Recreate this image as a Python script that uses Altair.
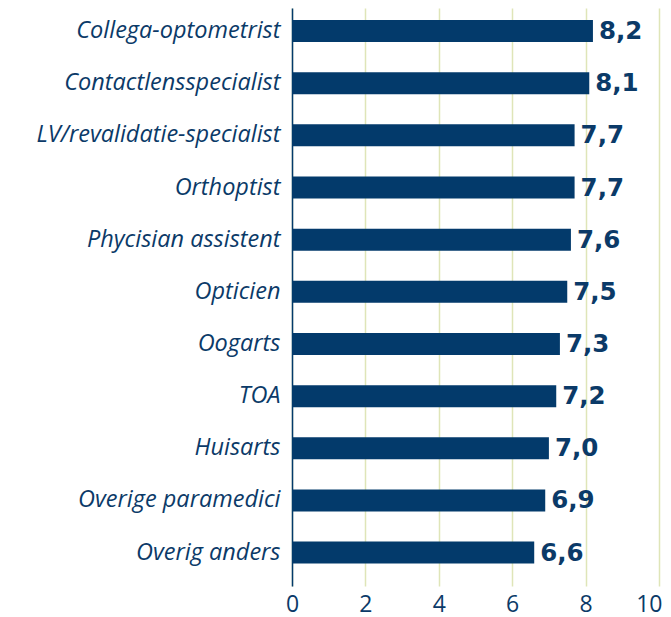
import altair as alt
import pandas as pd

categories = [
    "Collega-optometrist", "Contactlensspecialist", "LV/revalidatie-specialist",
    "Orthoptist", "Phycisian assistent", "Opticien", "Oogarts", "TOA",
    "Huisarts", "Overige paramedici", "Overig anders",
]
values = [8.2, 8.1, 7.7, 7.7, 7.6, 7.5, 7.3, 7.2, 7.0, 6.9, 6.6]
value_labels = ["8,2", "8,1", "7,7", "7,7", "7,6", "7,5", "7,3", "7,2", "7,0", "6,9", "6,6"]
x_ticks = [0, 2, 4, 6, 8, 10]

df = pd.DataFrame({"cat": categories, "val": values, "lab": value_labels})

NAVY = "#033a6b"
TEXT = "#0b3a68"

y_enc = alt.Y(
    "cat:N", sort=categories, title=None,
    scale=alt.Scale(paddingInner=0.578, paddingOuter=0.33, align=0.35),
    axis=alt.Axis(labelFont="Open Sans", labelFontStyle="italic", labelFontSize=23.5,
                  labelColor=TEXT, labelPadding=12, ticks=False, domain=True,
                  domainColor=NAVY, domainWidth=1.5, grid=False, labelLimit=300),
)
x_enc = alt.X(
    "val:Q", title=None,
    scale=alt.Scale(domain=[0, 10], nice=False),
    axis=alt.Axis(values=x_ticks, labelFont="Open Sans", labelFontSize=23,
                  labelColor=TEXT, ticks=False, domain=False, grid=True,
                  gridColor="#dfe5b8", gridWidth=1.5, labelPadding=7,
                  labelFlush=False,
                  labelAlign={"condition": {"test": "datum.value == 10", "value": "right"},
                              "value": "center"},
                  labelOffset={"condition": {"test": "datum.value == 10", "value": 3},
                               "value": 0}),
)

bars = alt.Chart(df).mark_bar(color=NAVY).encode(x=x_enc, y=y_enc)
texts = alt.Chart(df).mark_text(
    align="left", baseline="middle", dx=6, dy=1, font="DejaVu Sans",
    fontWeight="bold", fontSize=24.5, color=TEXT,
).encode(x="val:Q", y=alt.Y("cat:N", sort=categories), text="lab:N")

chart = (bars + texts).properties(
    width=367, height=578,
    autosize=alt.AutoSizeParams(type="none"),
    padding={"left": 284, "top": 0, "right": 4, "bottom": 40},
).configure_view(stroke=None)

chart.save("out.html", embed_options={"renderer": "svg", "actions": False})
